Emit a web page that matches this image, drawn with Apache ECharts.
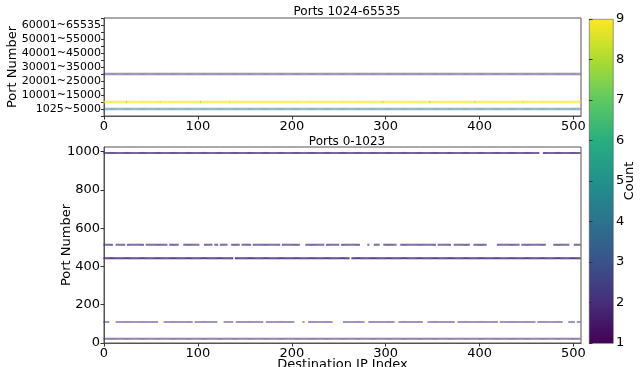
<!DOCTYPE html>
<html><head><meta charset="utf-8">
<script src="https://cdn.jsdelivr.net/npm/echarts@6/dist/echarts.min.js"></script>
<style>html,body{margin:0;padding:0;background:#fff}#c{width:643px;height:367px}</style>
</head><body><div id="c"></div>
<script>
// ---- data ----
const ipCount = 508;               // destination IP indices 0..507
const xTicks = [0, 100, 200, 300, 400, 500];
const binLabels = ['1025~5000','5001~10000','10001~15000','15001~20000','20001~25000','25001~30000',
  '30001~35000','35001~40000','40001~45000','45001~50000','50001~55000','55001~60000','60001~65535'];
// high ports panel: bin index rows, base count
const highRows = [0, 1, 5];
const highCounts = [4, 9, 2];
const highGaps = [[], [], []];
const highSpots = [[], [[24,7],[60,8],[103,7],[134,8],[297,7],[347,7],[395,7],[446,8]], []];
// low ports panel
const lowPorts = [22, 110, 443, 513, 993];
const lowCounts = [2, 2, 2, 2, 2];
const lowGaps = [
  [],
  [[6,12],[58,63],[95,96],[121,127],[138,140],[170,172],[203,211],[214,217],[244,254],[278,281],[310,313],[340,344],[374,376],[420,421],[460,461],[489,494],[502,503]],
  [[138,139],[262,263]],
  [[10,12],[23,24],[43,44],[68,69],[80,84],[102,106],[116,117],[122,123],[132,135],[145,146],[157,158],[188,189],[209,214],[235,236],[251,252],[273,280],[283,287],[294,297],[312,315],[354,355],[370,372],[390,393],[408,418],[443,444],[471,478],[496,500]],
  [[464,467]]
];
const countTicks = [1,2,3,4,5,6,7,8,9];
// ---- styles ----
const viridis = ['#440154','#472d7b','#3b528b','#2c728e','#21918c','#28ae80','#5ec962','#addc30','#fde725'];
const highOpacity = [0.45, 0.65, 0.45];
const lowOpacity = [0.55, 0.45, 0.85, 0.65, 0.75];

function buildRow(y, count, gaps, spots) {
  const pts = [];
  for (let i = 0; i < ipCount; i++) {
    if (gaps.some(g => i >= g[0] && i <= g[1])) continue;
    let c = count;
    const s = spots.find(p => p[0] === i);
    if (s) c = s[1];
    pts.push([i, y, c]);
  }
  return pts;
}

const font = 'DejaVu Sans';
const symHigh = [1.2, 2.5];
const symLow = [1.2, 2];
const series = [];
highRows.forEach((r, k) => {
  series.push({type:'scatter', xAxisIndex:0, yAxisIndex:0, symbol:'rect', symbolSize:symHigh,
    itemStyle:{opacity:highOpacity[k]}, data: buildRow(r, highCounts[k], highGaps[k], highSpots[k]), silent:true});
});
lowPorts.forEach((p, k) => {
  series.push({type:'scatter', xAxisIndex:1, yAxisIndex:1, symbol:'rect', symbolSize:symLow,
    itemStyle:{opacity:lowOpacity[k]}, data: buildRow(p, lowCounts[k], lowGaps[k], []), silent:true});
});

const xAxisCommon = {type:'value', min:0, max:ipCount, interval:100,
  axisLine:{show:true, onZero:false, lineStyle:{color:'#555'}},
  axisTick:{show:true, length:3.5, lineStyle:{color:'#333'}},
  axisLabel:{fontFamily:font, fontSize:13, color:'#000', margin:4},
  splitLine:{show:false}};
const nameStyle = {fontFamily:font, fontSize:13, color:'#000'};

const chart = echarts.init(document.getElementById('c'), null, {renderer:'canvas'});
chart.setOption({
  animation:false,
  backgroundColor:'#fff',
  title:[
    {text:'Ports 1024-65535', left:342, top:1, textAlign:'center', textStyle:{fontFamily:font, fontSize:12, fontWeight:'normal', color:'#000'}},
    {text:'Ports 0-1023', left:342, top:131, textAlign:'center', textStyle:{fontFamily:font, fontSize:12, fontWeight:'normal', color:'#000'}}
  ],
  grid:[
    {left:104, top:18, width:477, height:98, show:true, borderColor:'#555', borderWidth:1, backgroundColor:'transparent', containLabel:false, outerBoundsMode:'none'},
    {left:104, top:147, width:477, height:196, show:true, borderColor:'#555', borderWidth:1, backgroundColor:'transparent', containLabel:false, outerBoundsMode:'none'},
    {left:589, top:19, width:24, height:324, show:false, containLabel:false, outerBoundsMode:'none'}
  ],
  xAxis:[
    Object.assign({gridIndex:0}, xAxisCommon),
    Object.assign({gridIndex:1, name:'Destination IP Index', nameLocation:'middle', nameGap:15, nameMoveOverlap:false,
      nameTextStyle:nameStyle}, xAxisCommon),
    {gridIndex:2, type:'value', min:0, max:1, show:false}
  ],
  yAxis:[
    {gridIndex:0, type:'value', min:-1, max:13, interval:1, name:'Port Number', nameLocation:'middle', nameGap:85, nameMoveOverlap:false,
      nameTextStyle:nameStyle,
      axisLine:{show:true, lineStyle:{color:'#555'}}, axisTick:{show:true, length:3, lineStyle:{color:'#333'}},
      axisLabel:{fontFamily:font, fontSize:11, color:'#000', margin:3,
        formatter: v => (v >= 0 && v <= 12 && v % 2 === 0) ? binLabels[v] : ''},
      splitLine:{show:false}},
    {gridIndex:1, type:'value', min:0, max:1024, interval:200, name:'Port Number', nameLocation:'middle', nameGap:31, nameMoveOverlap:false,
      nameTextStyle:nameStyle,
      axisLine:{show:true, lineStyle:{color:'#555'}}, axisTick:{show:true, length:3.5, lineStyle:{color:'#333'}},
      axisLabel:{fontFamily:font, fontSize:13, color:'#000', margin:4, formatter: v => String(v)}, splitLine:{show:false}},
    {gridIndex:2, type:'value', min:1, max:9, interval:1, position:'right', name:'Count', nameLocation:'middle', nameGap:10, nameRotate:90, nameMoveOverlap:false,
      nameTextStyle:nameStyle,
      axisLine:{show:false}, axisTick:{show:true, length:3.5, lineStyle:{color:'#333'}},
      axisLabel:{fontFamily:font, fontSize:13, color:'#000', margin:3,
        formatter: v => countTicks.includes(v) ? String(v) : ''},
      splitLine:{show:false}}
  ],
  visualMap:{show:false, type:'continuous', min:1, max:9, dimension:2, seriesIndex: series.map((s,i)=>i),
    inRange:{color:viridis}},
  graphic:[{type:'rect', left:589, top:19, shape:{width:24, height:324}, silent:true,
    style:{fill:new echarts.graphic.LinearGradient(0,1,0,0, viridis.map((c,i)=>({offset:i/8, color:c}))), stroke:'#444', lineWidth:0.5}}],
  series: series
});
</script></body></html>
